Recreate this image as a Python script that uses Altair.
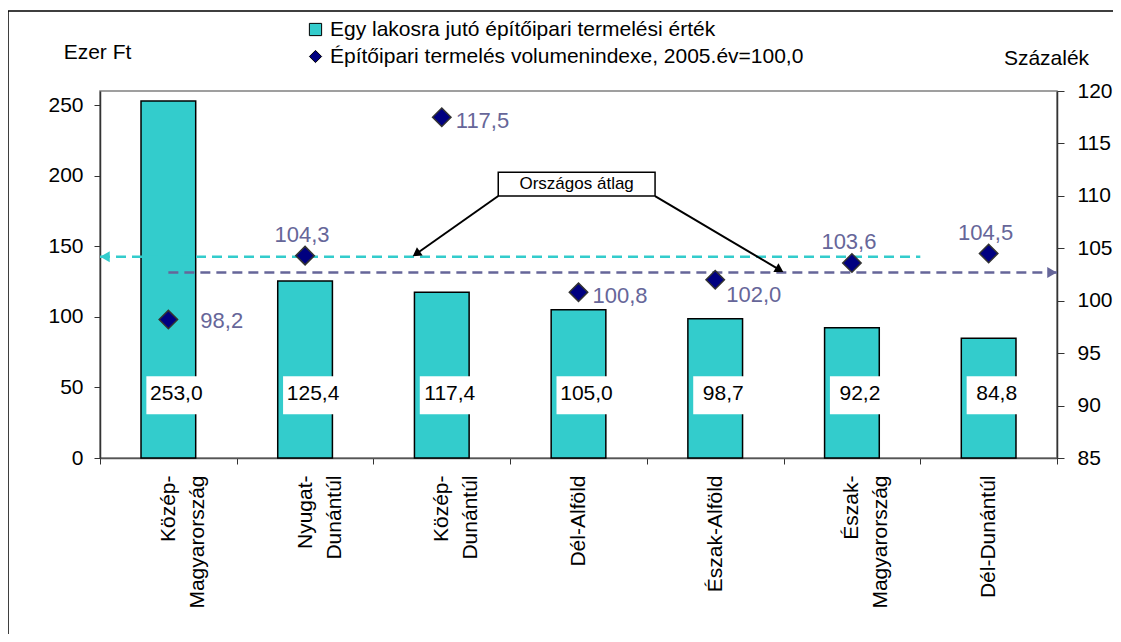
import altair as alt
import pandas as pd

# ---------------- data ----------------
regions = ["Közép-\nMagyarország", "Nyugat-\nDunántúl", "Közép-\nDunántúl", "Dél-Alföld",
           "Észak-Alföld", "Észak-\nMagyarország", "Dél-Dunántúl"]
per_capita = [253.0, 125.4, 117.4, 105.0, 98.7, 92.2, 84.8]          # Ezer Ft
volume_index = [98.2, 104.3, 117.5, 100.8, 102.0, 103.6, 104.5]      # %, 2005 = 100

series_names = ["Egy lakosra jutó építőipari termelési érték",
                "Építőipari termelés volumenindexe, 2005.év=100,0"]

national_per_capita = 142.6   # Ezer Ft (left axis)
national_volume = 102.7       # % (right axis)

left_ticks = [0, 50, 100, 150, 200, 250]
right_ticks = [85, 90, 95, 100, 105, 110, 115, 120]

# where each volume-index label sits relative to its diamond (style only)
label_groups = {
    "far": (["Közép-\nMagyarország"], "left", 32, 1),
    "right": (["Közép-\nDunántúl", "Dél-Alföld"], "left", 14, 4),
    "low": (["Észak-Alföld"], "left", 11, 15),
    "above": (["Nyugat-\nDunántúl", "Észak-\nMagyarország", "Dél-Dunántúl"], "center", -3, -21),
}

# annotation "Országos átlag" (category-index units on x, Ezer Ft on y)
note_text = "Országos átlag"
note_box = {"x": 2.913, "x2": 4.060, "y": 185.6, "y2": 202.4}
note_arrows = pd.DataFrame({
    "x0": [2.913, 4.060], "y0": [185.6, 185.6],
    "x1": [2.322, 4.962], "y1": [145.2, 133.8],
    "ang": [234.8, 120.6],
})

# ---------------- styles ----------------
TEAL = "#33CCCC"
NAVY = "#000080"
PURPLE = "#666699"
FONT = "Liberation Sans"
W, H = 957, 367

df = pd.DataFrame({"region": regions, "value": per_capita, "volume": volume_index,
                   "series": series_names[1]})

X_BAND = alt.Scale(domain=regions, paddingInner=0, paddingOuter=0)
X_Q = alt.Scale(domain=[0, 7], nice=False, zero=False)
Y_L = alt.Scale(domain=[0, 260], nice=False, zero=True)
Y_R = alt.Scale(domain=[85, 120], nice=False, zero=False)

base = alt.Chart(df)

x_axis = alt.Axis(title=None, labelAngle=-90, labelAlign="right", labelBaseline="middle",
                  labelExpr="split(datum.label, '\\n')", labelLineHeight=29,
                  labelFontSize=21, labelColor="black", tickBand="extent",
                  tickSize=6, tickColor="#333333", domainColor="#555555",
                  domainWidth=1.5, labelPadding=11)

left_axis = alt.Axis(title="Ezer Ft", values=left_ticks, orient="left", grid=False,
                     titleAngle=0, titleX=-3, titleY=-39, titleAlign="center",
                     titleBaseline="middle", titleFontWeight="normal", titleFontSize=21,
                     titleColor="black", labelFontSize=21, labelColor="black",
                     tickSize=6, labelPadding=11, tickColor="#333333",
                     domainColor="#333333", domainWidth=1.5)

right_axis = alt.Axis(title="Százalék", values=right_ticks, orient="right", grid=False,
                      titleAngle=0, titleX=-11, titleY=-33, titleAlign="center",
                      titleBaseline="middle", titleFontWeight="normal", titleFontSize=21,
                      titleColor="black", labelFontSize=21, labelColor="black",
                      tickSize=7, labelPadding=13, tickColor="#333333",
                      domainColor="#333333", domainWidth=1.5)

bars = base.mark_bar(color=TEAL, stroke="black", strokeWidth=1.5,
                     width=alt.RelativeBandSize(0.4)).encode(
    x=alt.X("region:N", scale=X_BAND, sort=regions, axis=x_axis),
    y=alt.Y("value:Q", scale=Y_L, axis=left_axis),
)

boxes = base.transform_calculate(lo="31", hi="58").mark_bar(
    color="white", width=60, xOffset=8).encode(
    x=alt.X("region:N", scale=X_BAND, sort=regions, axis=None),
    y=alt.Y("lo:Q", scale=Y_L, axis=None),
    y2="hi:Q",
)

bar_labels = base.transform_calculate(
    ly="45", lbl="replace(format(datum.value, '.1f'), '.', ',')").mark_text(
    fontSize=21, color="black", dx=8, baseline="middle").encode(
    x=alt.X("region:N", scale=X_BAND, sort=regions, axis=None),
    y=alt.Y("ly:Q", scale=Y_L, axis=None),
    text="lbl:N",
)

# national average lines
teal_df = pd.DataFrame({"xq": [0, 6], "y": [national_per_capita] * 2})
teal_line = alt.Chart(teal_df).mark_line(color=TEAL, strokeDash=[10, 6], strokeWidth=2.5).encode(
    x=alt.X("xq:Q", scale=X_Q, axis=None),
    y=alt.Y("y:Q", scale=Y_L, axis=None),
)
teal_head = alt.Chart(teal_df.iloc[[0]]).mark_point(
    shape="triangle-left", filled=True, color=TEAL, size=120, opacity=1, xOffset=5).encode(
    x=alt.X("xq:Q", scale=X_Q, axis=None),
    y=alt.Y("y:Q", scale=Y_L, axis=None),
)

purple_df = pd.DataFrame({"xq": [0.5, 7], "y": [national_volume] * 2})
purple_line = alt.Chart(purple_df).mark_line(color=PURPLE, strokeDash=[10, 6], strokeWidth=2.5).encode(
    x=alt.X("xq:Q", scale=X_Q, axis=None),
    y=alt.Y("y:Q", scale=Y_R, axis=None),
)
purple_head = alt.Chart(purple_df.iloc[[1]]).mark_point(
    shape="triangle-right", filled=True, color=PURPLE, size=120, opacity=1, xOffset=-5).encode(
    x=alt.X("xq:Q", scale=X_Q, axis=None),
    y=alt.Y("y:Q", scale=Y_R, axis=None),
)

legend = alt.Legend(title=None, orient="none", legendX=205, legendY=-72, direction="vertical",
                    labelFontSize=21, labelColor="black", labelLimit=0, symbolSize=150,
                    symbolStrokeColor="black", symbolStrokeWidth=1, rowPadding=5)

diamonds = base.mark_point(filled=True, size=340, stroke="#333333", strokeWidth=1.5,
                           opacity=1).encode(
    x=alt.X("region:N", scale=X_BAND, sort=regions, axis=None),
    y=alt.Y("volume:Q", scale=Y_R, axis=right_axis),
    color=alt.Color("series:N", scale=alt.Scale(domain=series_names, range=[TEAL, NAVY]),
                    legend=legend),
    shape=alt.Shape("series:N", scale=alt.Scale(domain=series_names, range=["square", "diamond"]),
                    legend=legend),
)

vol_lbl = "replace(format(datum.volume, '.1f'), '.', ',')"
vol_label_layers = []
for members, align, dx, dy in label_groups.values():
    vol_label_layers.append(
        base.transform_filter(alt.FieldOneOfPredicate(field="region", oneOf=members))
        .transform_calculate(lbl=vol_lbl)
        .mark_text(align=align, baseline="middle", dx=dx, dy=dy, fontSize=22, color=PURPLE)
        .encode(
            x=alt.X("region:N", scale=X_BAND, sort=regions, axis=None),
            y=alt.Y("volume:Q", scale=Y_R, axis=None),
            text="lbl:N",
        )
    )

# annotation
box_df = pd.DataFrame([note_box])
note_rect = alt.Chart(box_df).mark_rect(fill="white", stroke="black", strokeWidth=1.5).encode(
    x=alt.X("x:Q", scale=X_Q, axis=None), x2="x2:Q",
    y=alt.Y("y:Q", scale=Y_L, axis=None), y2="y2:Q",
)
note_label = alt.Chart(box_df).transform_calculate(
    cx="(datum.x + datum.x2) / 2", cy="(datum.y + datum.y2) / 2").mark_text(
    fontSize=17, color="black", baseline="middle", align="center").encode(
    x=alt.X("cx:Q", scale=X_Q, axis=None),
    y=alt.Y("cy:Q", scale=Y_L, axis=None),
    text=alt.value(note_text),
)
note_lines = alt.Chart(note_arrows).mark_rule(color="black", strokeWidth=2).encode(
    x=alt.X("x0:Q", scale=X_Q, axis=None), x2="x1:Q",
    y=alt.Y("y0:Q", scale=Y_L, axis=None), y2="y1:Q",
)
note_heads = alt.Chart(note_arrows).mark_point(
    shape="triangle", filled=True, color="black", size=100, opacity=1).encode(
    x=alt.X("x1:Q", scale=X_Q, axis=None),
    y=alt.Y("y1:Q", scale=Y_L, axis=None),
    angle=alt.Angle("ang:Q", scale=None),
)

frame = alt.Chart(pd.DataFrame({"a": [0]})).mark_rect(
    fillOpacity=0, stroke="black", strokeWidth=1.5).encode(
    x=alt.value(-92), x2=alt.value(W + 80), y=alt.value(-80), y2=alt.value(H + 250),
)

chart = alt.layer(
    frame, bars, boxes, bar_labels, teal_line, teal_head, purple_line, purple_head,
    note_lines, note_heads, note_rect, note_label,
    diamonds, *vol_label_layers,
).resolve_scale(x="independent", y="independent").properties(
    width=W, height=H,
    autosize=alt.AutoSizeParams(type="none"),
    padding={"left": 92, "top": 83, "right": 56, "bottom": 176},
).configure(font=FONT).configure_view(stroke="#808080", strokeWidth=1.5)

chart.save("out.html", embed_options={"renderer": "svg", "actions": False})
